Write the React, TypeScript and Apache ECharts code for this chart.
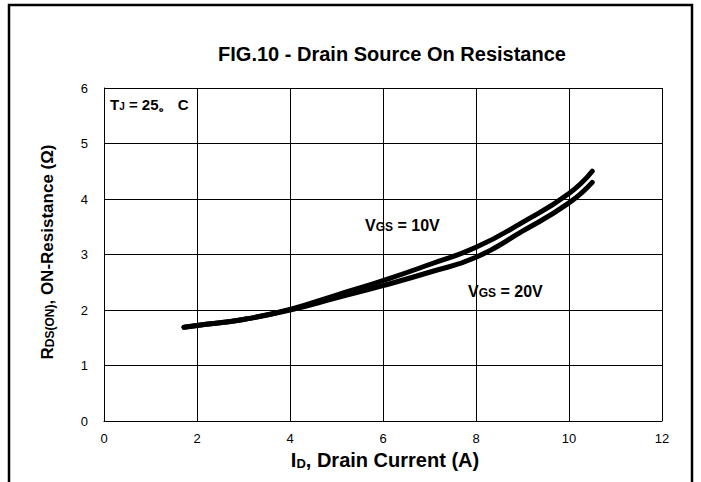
import React, { useEffect, useRef } from "react";
import * as echarts from "echarts";

const xTicks = [0, 2, 4, 6, 8, 10, 12];
const yTicks = [0, 1, 2, 3, 4, 5, 6];

const currentVgs10 = [1.72, 2, 3, 4, 5, 6, 7, 8, 9, 10, 10.5];
const resistVgs10 = [1.69, 1.72, 1.83, 2.01, 2.27, 2.53, 2.82, 3.13, 3.58, 4.1, 4.5];

const currentVgs20 = [1.72, 2, 3, 4, 5, 6, 7, 8, 9, 10, 10.5];
const resistVgs20 = [1.69, 1.72, 1.83, 2.0, 2.22, 2.44, 2.68, 2.95, 3.42, 3.93, 4.3];

const titleText = "FIG.10 - Drain Source On Resistance";

const FONT = "'Liberation Sans', Arial, sans-serif";

export default function App() {
  const ref = useRef<HTMLDivElement>(null);
  useEffect(() => {
    if (!ref.current) return;
    const chart = echarts.init(ref.current, undefined, { renderer: "svg" });
    const pair = (xs: number[], ys: number[]) => xs.map((x, i) => [x, ys[i]]);
    const sub = (size: number) => ({
      font: `bold ${size}px ${FONT}`,
      fill: "#000",
      verticalAlign: "bottom",
    });
    chart.setOption({
      animation: false,
      backgroundColor: "#ffffff",
      grid: { left: 104, right: 39, top: 88, bottom: 61, containLabel: false },
      xAxis: {
        type: "value",
        min: xTicks[0],
        max: xTicks[xTicks.length - 1],
        interval: 2,
        axisLine: { show: true, lineStyle: { color: "#000", width: 1 } },
        axisTick: { show: false },
        splitLine: { show: true, lineStyle: { color: "#000", width: 1 } },
        axisLabel: { color: "#000", fontSize: 13, fontFamily: FONT, margin: 11 },
      },
      yAxis: {
        type: "value",
        min: yTicks[0],
        max: yTicks[yTicks.length - 1],
        interval: 1,
        axisLine: { show: true, lineStyle: { color: "#000", width: 1 } },
        axisTick: { show: false },
        splitLine: { show: true, lineStyle: { color: "#000", width: 1 } },
        axisLabel: { color: "#000", fontSize: 13, fontFamily: FONT, margin: 16 },
      },
      series: [
        {
          name: "VGS = 10V",
          type: "line",
          smooth: true,
          symbol: "none",
          data: pair(currentVgs10, resistVgs10),
          lineStyle: { color: "#000", width: 5, cap: "round" },
        },
        {
          name: "VGS = 20V",
          type: "line",
          smooth: true,
          symbol: "none",
          data: pair(currentVgs20, resistVgs20),
          lineStyle: { color: "#000", width: 5, cap: "round" },
        },
      ],
      graphic: [
        {
          type: "rect",
          shape: { x: 9, y: 5, width: 683, height: 520 },
          style: { fill: "none", stroke: "#000", lineWidth: 2.5 },
          silent: true,
        },
        {
          type: "text",
          x: 392,
          y: 54,
          style: {
            text: titleText,
            font: `bold 20px ${FONT}`,
            fill: "#000",
            align: "center",
            verticalAlign: "middle",
          },
        },
        {
          type: "text",
          x: 47,
          y: 252,
          rotation: Math.PI / 2,
          style: {
            text: "{a|R}{b|DS(ON)}{a|, ON-Resistance (Ω)}",
            align: "center",
            verticalAlign: "middle",
            fill: "#000",
            rich: { a: sub(17), b: sub(12) },
          },
        },
        {
          type: "text",
          x: 385,
          y: 460,
          style: {
            text: "{a|I}{b|D}{a|, Drain Current (A)}",
            align: "center",
            verticalAlign: "middle",
            fill: "#000",
            rich: { a: sub(20), b: sub(13) },
          },
        },
        {
          type: "text",
          x: 110,
          y: 104,
          style: {
            text: "{a|T}{b|J}{a| = 25。 C}",
            align: "left",
            verticalAlign: "middle",
            fill: "#000",
            rich: { a: sub(15), b: sub(10) },
          },
        },
        {
          type: "text",
          x: 365,
          y: 225,
          style: {
            text: "{a|V}{b|GS}{a| = 10V}",
            align: "left",
            verticalAlign: "middle",
            fill: "#000",
            rich: { a: sub(16), b: sub(12) },
          },
        },
        {
          type: "text",
          x: 468,
          y: 291,
          style: {
            text: "{a|V}{b|GS}{a| = 20V}",
            align: "left",
            verticalAlign: "middle",
            fill: "#000",
            rich: { a: sub(16), b: sub(12) },
          },
        },
      ],
    });
    return () => chart.dispose();
  }, []);
  return (
    <div
      ref={ref}
      style={{ position: "fixed", left: 0, top: 0, width: 701, height: 482 }}
    />
  );
}
